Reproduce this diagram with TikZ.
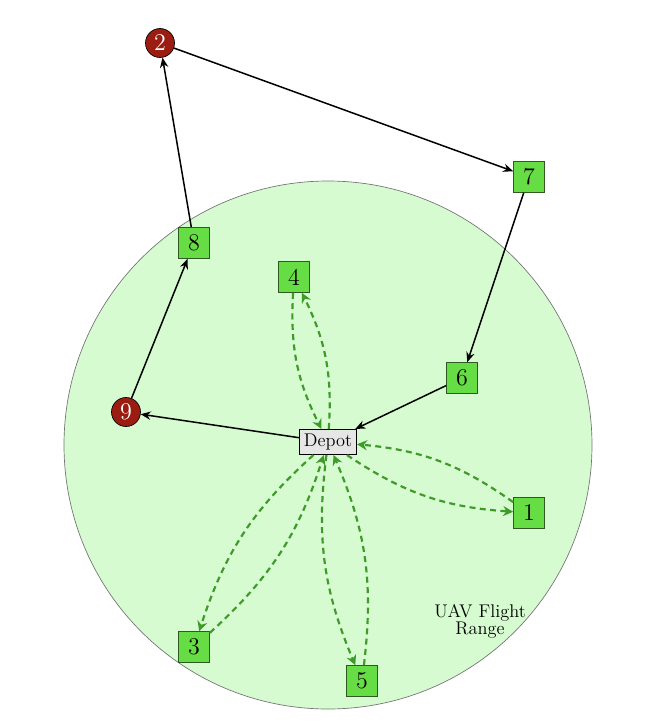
\documentclass[tikz,border=0pt]{standalone}
\usetikzlibrary{arrows.meta}
\definecolor{rangefill}{HTML}{D6FBD0}
\definecolor{boxfill}{HTML}{66DD44}
\definecolor{boxdraw}{HTML}{2E5A22}
\definecolor{redfill}{HTML}{9B1C10}
\definecolor{dashgreen}{HTML}{3F9A2A}
\definecolor{depotfill}{HTML}{E6E6E6}
\tikzset{
  cust/.style={draw=boxdraw, fill=boxfill, minimum size=18.6pt, inner sep=1pt, font=\Large},
  uav/.style={circle, draw=black, fill=redfill, text=white, minimum size=17.4pt, inner sep=0pt, font=\Large},
  depot/.style={draw=black, fill=depotfill, font=\fontsize{11}{13}\selectfont, inner sep=2.8pt, minimum height=13.5pt},
  truck/.style={line width=0.9pt, -{Stealth[length=6pt,width=5pt]}},
  drone/.style={line width=1.3pt, dash pattern=on 3.6pt off 2.6pt, dashgreen, -{Stealth[length=6pt,width=6pt]}, bend right=15},
}
\begin{document}
\begin{tikzpicture}[x=0.6pt, y=-0.6pt]
\useasboundingbox (0,0) rectangle (662,722);
\fill[rangefill, draw=black!55] (328,445) circle[radius=158.4pt];
\node[font=\fontsize{11}{12}\selectfont, align=center] (lbl) at (480,621) {UAV Flight\\[-2pt]Range};
\node[depot] (D) at (328,442) {Depot};
\node[uav] (n2) at (160,43) {2};
\node[uav] (n9) at (126,412) {9};
\node[cust] (n7) at (529,177) {7};
\node[cust] (n8) at (194,243) {8};
\node[cust] (n4) at (294,277) {4};
\node[cust] (n6) at (462,378) {6};
\node[cust] (n1) at (529,513) {1};
\node[cust] (n3) at (194,647) {3};
\node[cust] (n5) at (362,681) {5};
\draw[truck] (n8) -- (n2);
\draw[truck] (n2) -- (n7);
\draw[truck] (n7) -- (n6);
\draw[truck] (n6) -- (D);
\draw[truck] (D) -- (n9);
\draw[truck] (n9) -- (n8);
\draw[drone] (D) to (n4);
\draw[drone] (n4) to (D);
\draw[drone] (D) to (n1);
\draw[drone] (n1) to (D);
\draw[drone] (D) to (n3);
\draw[drone] (n3) to (D);
\draw[drone] (D) to (n5);
\draw[drone] (n5) to (D);
\end{tikzpicture}
\end{document}
